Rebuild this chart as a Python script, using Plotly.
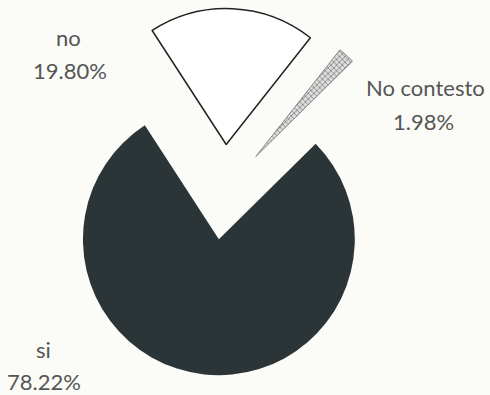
import plotly.graph_objects as go

labels = ["no", "No contesto", "si"]
values = [19.80, 1.98, 78.22]
pct_labels = ["19.80%", "1.98%", "78.22%"]

fig = go.Figure()
fig.add_trace(go.Pie(
    labels=labels,
    values=values,
    sort=False,
    direction="clockwise",
    rotation=-33,
    pull=[0.35, 0.35, 0.35],
    textinfo="none",
    hoverinfo="label+percent",
    showlegend=False,
    marker=dict(
        colors=["#ffffff", "#c8c8c8", "#2b3437"],
        line=dict(color=["#222222", "#888888", "#2b3437"], width=[1.5, 1, 0]),
        pattern=dict(shape=["", "x", ""], fgcolor="#8a8a8a", bgcolor=["#ffffff", "#dedede", "#2b3437"], size=4, solidity=0.4),
    ),
    domain=dict(x=[40.5/490, 407.5/490], y=[1 - 375.5/395, 1 - 8.5/395]),
))

font = dict(family="Lato, 'Open Sans', sans-serif", size=22, color="#555555")
name_pos = [(68, 38), (425, 88), (43, 349)]
pct_pos = [(70, 70), (423, 122), (44, 381)]
for lab, pct, (nx, ny), (px, py) in zip(labels, pct_labels, name_pos, pct_pos):
    fig.add_annotation(text=lab, x=nx/490, y=1 - ny/395, xref="paper", yref="paper",
                       showarrow=False, font=font, xanchor="center", yanchor="middle")
    fig.add_annotation(text=pct, x=px/490, y=1 - py/395, xref="paper", yref="paper",
                       showarrow=False, font=font, xanchor="center", yanchor="middle")

fig.update_layout(
    width=490, height=395,
    margin=dict(l=0, r=0, t=0, b=0),
    paper_bgcolor="#fbfbf8",
    plot_bgcolor="#fbfbf8",
)
fig.write_html("out.html")
